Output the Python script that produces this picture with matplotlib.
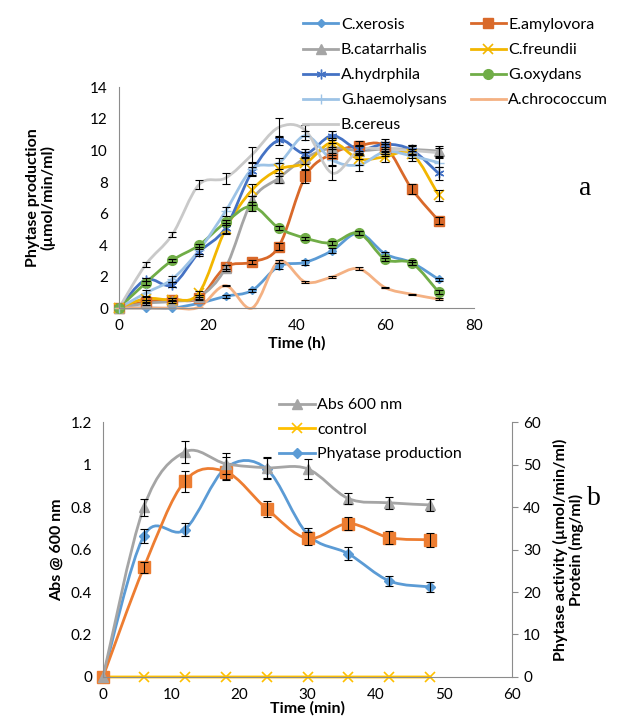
import numpy as np
import matplotlib.pyplot as plt
from matplotlib.path import Path
from matplotlib.patches import PathPatch
from matplotlib.lines import Line2D

plt.rcParams['font.family'] = ['Lato', 'DejaVu Sans']

# ---- panel a data (time in h) ----
hours = [0, 6, 12, 18, 24, 30, 36, 42, 48, 54, 60, 66, 72]
names_a = ["C.xerosis", "E.amylovora", "B.catarrhalis", "C.freundii", "A.hydrphila",
           "G.oxydans", "G.haemolysans", "A.chrococcum", "B.cereus"]
xerosis = [0, 0, 0, 0.3, 0.74, 1.12, 2.65, 2.9, 3.64, 4.76, 3.43, 2.88, 1.82]
amylovora = [0, 0.4, 0.53, 0.63, 2.6, 2.92, 3.9, 8.36, 9.8, 10.3, 10.24, 7.55, 5.55]
catarrhalis = [0, 0.3, 0.42, 0.7, 2.54, 6.84, 8.25, 9.52, 10.16, 9.99, 10.1, 10.07, 9.97]
freundii = [0, 0.6, 0.53, 0.95, 5.0, 7.5, 8.8, 9.2, 10.5, 9.46, 9.6, 9.8, 7.17]
hydrphila = [0, 1.8, 1.48, 3.53, 5.08, 8.68, 10.65, 9.8, 10.94, 10.07, 10.4, 10.03, 8.55]
oxydans = [0, 1.59, 3.03, 3.98, 5.44, 6.45, 5.08, 4.44, 4.13, 4.76, 3.09, 2.84, 1.02]
haemolysans = [0, 0.95, 1.84, 3.66, 6.14, 8.83, 9.2, 10.94, 9.4, 9.08, 9.93, 9.65, 9.23]
chrococcum = [0, 0, 0, 0.05, 1.42, 0, 2.96, 1.65, 1.97, 2.5, 1.29, 0.87, 0.57]
cereus = [0, 2.75, 4.66, 7.83, 8.25, 9.74, 11.47, 11.28, 8.57, 10.0, 10.1, 10.0, 9.86]

err_xerosis = [0, 0, 0, 0, 0.1, 0.1, 0.2, 0.15, 0.15, 0.15, 0.15, 0.15, 0.1]
err_amylovora = [0, 0.1, 0.1, 0.1, 0.15, 0.15, 0.2, 0.4, 0.3, 0.3, 0.3, 0.3, 0.2]
err_catarrhalis = [0, 0.1, 0.1, 0.15, 0.2, 0.3, 0.3, 0.4, 0.3, 0.3, 0.3, 0.3, 0.3]
err_freundii = [0, 0.1, 0.1, 0.15, 0.3, 0.4, 0.4, 0.4, 0.3, 0.4, 0.3, 0.3, 0.35]
err_hydrphila = [0, 0.1, 0.15, 0.2, 0.3, 0.3, 0.3, 0.3, 0.3, 0.3, 0.3, 0.3, 0.4]
err_oxydans = [0, 0.1, 0.1, 0.1, 0.15, 0.3, 0.15, 0.1, 0.1, 0.1, 0.1, 0.1, 0.1]
err_haemolysans = [0, 0.2, 0.2, 0.2, 0.3, 0.4, 0.35, 0.3, 0.3, 0.4, 0.3, 0.3, 0.3]
err_chrococcum = [0, 0, 0, 0, 0.05, 0, 0.1, 0.05, 0.05, 0.1, 0.05, 0.05, 0.05]
err_cereus = [0, 0.15, 0.15, 0.3, 0.35, 0.5, 0.6, 0.35, 0.45, 0.3, 0.3, 0.3, 0.3]

# ---- panel b data (time in min) ----
minutes = [0, 6, 12, 18, 24, 30, 36, 42, 48]
abs600 = [0, 0.80, 1.059, 1.004, 0.985, 0.98, 0.84, 0.82, 0.81]
err_abs = [0, 0.04, 0.05, 0.05, 0.05, 0.047, 0.028, 0.027, 0.028]
control = [0, 0, 0, 0, 0, 0, 0, 0, 0]
phytase = [0, 33.2, 34.7, 49.2, 49.0, 33.6, 29.0, 22.6, 21.2]
err_phytase = [0, 1.6, 1.6, 2.5, 2.5, 1.5, 1.5, 1.2, 1.1]
protein = [0, 25.8, 46.1, 48.3, 39.6, 32.6, 36.1, 32.8, 32.3]
err_protein = [0, 1.3, 2.5, 2.0, 1.9, 1.6, 1.6, 1.6, 1.6]


def smooth_path(x, y):
    # Excel-like smoothed line: cubic Bezier through every point
    p = np.column_stack([x, y]).astype(float)
    n = len(p)
    verts = [p[0]]
    codes = [Path.MOVETO]
    for i in range(n - 1):
        p0 = p[i - 1] if i > 0 else p[i]
        p3 = p[i + 2] if i + 2 < n else p[i + 1]
        c1 = p[i] + (p[i + 1] - p0) / 6.0
        c2 = p[i + 1] - (p3 - p[i]) / 6.0
        verts += [c1, c2, p[i + 1]]
        codes += [Path.CURVE4] * 3
    return Path(verts, codes)


def draw(ax, x, y, err, color, marker, ms, mew=1.0, z=2):
    ax.add_patch(PathPatch(smooth_path(x, y), fill=False, edgecolor=color,
                           lw=2.0, zorder=z, capstyle='round', clip_on=False))
    if marker:
        ax.plot(x, y, linestyle='none', marker=marker, ms=ms, color=color,
                mec=color, mew=mew, zorder=z + 0.1, clip_on=False)
    if err is not None:
        keep = [i for i in range(len(x)) if err[i] > 0]
        ax.errorbar([x[i] for i in keep], [y[i] for i in keep],
                    yerr=[err[i] for i in keep], fmt='none', ecolor='black',
                    elinewidth=0.8, capsize=3, capthick=0.8, zorder=z + 0.2)
    return Line2D([], [], color=color, lw=2.0, marker=marker, ms=ms, mew=mew)


fig = plt.figure(figsize=(6.28, 7.16), dpi=100)
spine_col = '#8c8c8c'

# ================= panel a =================
ax1 = fig.add_axes([0.1895, 0.5698, 0.5653, 0.308])
series_a = [
    (xerosis, err_xerosis, '#5B9BD5', 'D', 4.5, 1.0),
    (amylovora, err_amylovora, '#D9692A', 's', 6.5, 1.0),
    (catarrhalis, err_catarrhalis, '#A5A5A5', '^', 6.5, 1.0),
    (freundii, err_freundii, '#F2B600', 'x', 6.5, 1.2),
    (hydrphila, err_hydrphila, '#4472C4', (6, 2, 0), 7, 1.0),
    (oxydans, err_oxydans, '#70AD47', 'o', 7, 1.0),
    (haemolysans, err_haemolysans, '#9DC3E6', '+', 7, 1.0),
    (chrococcum, err_chrococcum, '#F4B183', '_', 6, 1.0),
    (cereus, err_cereus, '#C9C9C9', None, 0, 1.0),
]
handles_a = []
for k, (vals, err, col, mk, ms, mew) in enumerate(series_a):
    handles_a.append(draw(ax1, hours, vals, err, col, mk, ms, mew, z=2 + k * 0.01))

ax1.set_xlim(0, 80)
ax1.set_ylim(0, 14)
ax1.set_xticks([0, 20, 40, 60, 80])
ax1.set_yticks(range(0, 15, 2))
ax1.tick_params(length=0, labelsize=11, pad=8)
for s in ['top', 'right']:
    ax1.spines[s].set_visible(False)
for s in ['left', 'bottom']:
    ax1.spines[s].set_color(spine_col)
    ax1.spines[s].set_linewidth(0.8)
ax1.set_xlabel("Time (h)", fontsize=11.5, fontweight='bold', labelpad=2)
ax1.set_ylabel("Phytase production\n(µmol/min/ml)", fontsize=11.5,
               fontweight='bold', labelpad=25, linespacing=1.05)

order = [0, 2, 4, 6, 8, 1, 3, 5, 7]
fig.legend([handles_a[i] for i in order], [names_a[i] for i in order],
           loc='upper left', bbox_to_anchor=(0.483, 0.975), ncol=2, frameon=False,
           fontsize=11.5, handlelength=2.2, handletextpad=0.15, columnspacing=1.5,
           labelspacing=0.68, borderaxespad=0, borderpad=0)
fig.text(0.932, 0.728, "a", fontsize=20, family='Liberation Serif', ha='center')

# ================= panel b =================
ax2 = fig.add_axes([0.164, 0.0545, 0.6513, 0.356])
ax3 = ax2.twinx()
h_abs = draw(ax2, minutes, abs600, err_abs, '#A5A5A5', '^', 7, z=2)
h_phy = draw(ax3, minutes, phytase, err_phytase, '#5B9BD5', 'D', 5, z=2)
draw(ax3, minutes, protein, err_protein, '#ED7D31', 's', 8, z=2.1)
h_ctl = draw(ax3, minutes, control, None, '#FFC000', 'x', 7, mew=1.2, z=2.05)

ax2.set_xlim(0, 60)
ax2.set_ylim(0, 1.2)
ax3.set_ylim(0, 60)
ax2.set_xticks(range(0, 61, 10))
ax2.set_yticks([0, 0.2, 0.4, 0.6, 0.8, 1.0, 1.2])
ax2.set_yticklabels(['0', '0.2', '0.4', '0.6', '0.8', '1', '1.2'])
ax3.set_yticks(range(0, 61, 10))
ax2.tick_params(length=0, labelsize=11, pad=8)
ax3.tick_params(axis='y', length=4, width=0.8, color=spine_col, labelsize=11, pad=4)
ax2.set_zorder(ax3.get_zorder() + 1)
ax2.patch.set_visible(False)
for a in (ax2, ax3):
    a.spines['top'].set_visible(False)
    for s in ['left', 'bottom', 'right']:
        a.spines[s].set_color(spine_col)
        a.spines[s].set_linewidth(0.8)
ax2.spines['right'].set_visible(False)
ax3.spines['left'].set_visible(False)
ax3.spines['bottom'].set_visible(False)

ax2.set_xlabel("Time (min)", fontsize=11.5, fontweight='bold', labelpad=-1)
ax2.set_ylabel("Abs @ 600 nm", fontsize=11.5, fontweight='bold', labelpad=5)
ax3.set_ylabel("Phytase activity (µmol/min/ml)\nProtein (mg/ml)", fontsize=11.5,
               fontweight='bold', labelpad=9, linespacing=1.05)

fig.legend([h_abs, h_ctl, h_phy], ["Abs 600 nm", "control", "Phyatase production"],
           loc='upper left', bbox_to_anchor=(0.445, 0.444), frameon=False,
           fontsize=11.5, handlelength=2.2, handletextpad=0.15, labelspacing=0.65,
           borderaxespad=0, borderpad=0)
fig.text(0.945, 0.295, "b", fontsize=20, family='Liberation Serif', ha='center')

fig.savefig("out.png", dpi=100)
